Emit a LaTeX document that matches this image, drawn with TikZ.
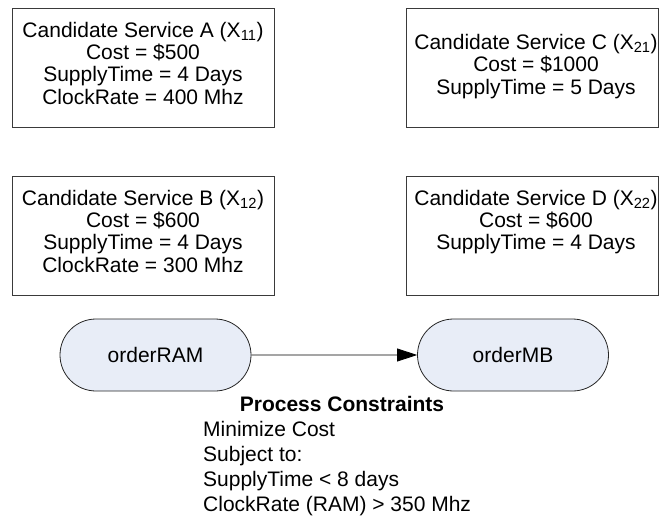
\documentclass[tikz,border=0pt]{standalone}
\usepackage{fontspec}
\setmainfont{Liberation Sans}
\usetikzlibrary{arrows.meta,shapes.misc}
\definecolor{ovalfill}{HTML}{E8EDF7}
\definecolor{edgegray}{HTML}{3A3A3A}
\tikzset{
  cand/.style={draw=edgegray, line width=0.8bp, inner sep=0pt, anchor=north west},
  candtext/.style={align=center, font=\fontsize{21bp}{22.3bp}\selectfont, inner sep=0pt, anchor=north},
  task/.style={draw=black!85, fill=ovalfill, rounded rectangle, minimum width=191bp,
    minimum height=72bp, inner sep=0pt, font=\fontsize{21bp}{24bp}\selectfont, line width=0.8bp},
  flow/.style={-{Triangle[length=20bp,width=13bp]}, line width=0.8bp},
  ctext/.style={font=\fontsize{21bp}{24bp}\selectfont, inner sep=0pt, anchor=base west},
  chead/.style={font=\fontsize{21bp}{24bp}\selectfont\bfseries, inner sep=0pt, anchor=base}
}
\begin{document}
\begin{tikzpicture}[x=1bp,y=-1bp]
\useasboundingbox (0,0) rectangle (659,519);
% candidate boxes
\node[cand, minimum width=262bp, minimum height=119bp] (boxA) at (12,8) {};
\node[cand, minimum width=262bp, minimum height=119bp] (boxB) at (12,176) {};
\node[cand, minimum width=252bp, minimum height=119bp] (boxC) at (406,8) {};
\node[cand, minimum width=252bp, minimum height=119bp] (boxD) at (406,176) {};
\node[candtext] (txtA) at (143,21.7) {Candidate Service A (X\textsubscript{11})\\Cost = \$500\\SupplyTime = 4 Days\\ClockRate = 400 Mhz};
\node[candtext] (txtB) at (143,189.7) {Candidate Service B (X\textsubscript{12})\\Cost = \$600\\SupplyTime = 4 Days\\ClockRate = 300 Mhz};
\node[candtext] (txtC) at (536,34) {Candidate Service C (X\textsubscript{21})\\Cost = \$1000\\SupplyTime = 5 Days};
\node[candtext] (txtD) at (536,189.7) {Candidate Service D (X\textsubscript{22})\\Cost = \$600\\SupplyTime = 4 Days};
% process
\node[task] (ram) at (155.5,355) {orderRAM};
\node[task] (mb) at (513,355) {orderMB};
\draw[flow] (ram) -- (mb);
% constraints
\node[chead] (pc) at (342,411) {Process Constraints};
\node[ctext] (c1) at (203,436) {Minimize Cost};
\node[ctext] (c2) at (203,461) {Subject to:};
\node[ctext] (c3) at (203,486) {SupplyTime < 8 days};
\node[ctext] (c4) at (203,511) {ClockRate (RAM) > 350 Mhz};
\end{tikzpicture}
\end{document}
